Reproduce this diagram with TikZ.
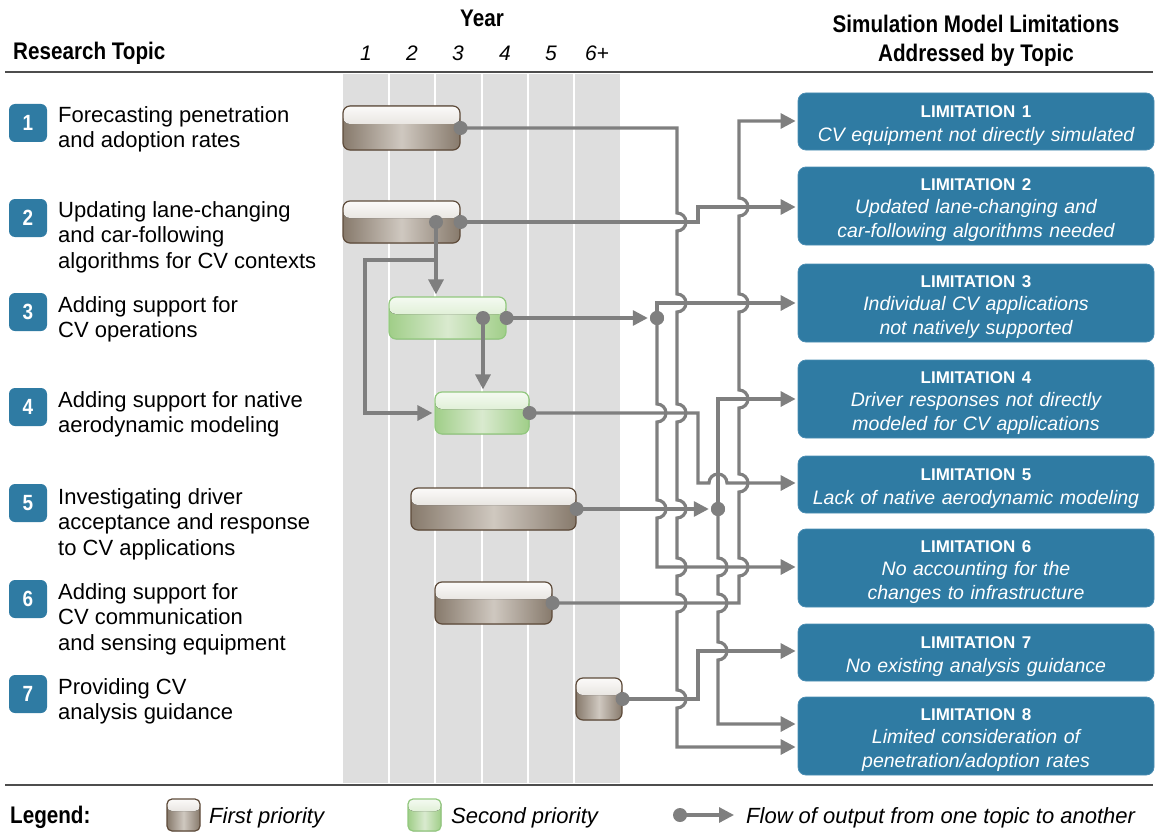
\documentclass[tikz,border=0pt]{standalone}
\usepackage{fontspec}
\setmainfont{Liberation Sans}
\newfontfamily\condfont[FakeStretch=0.86]{Liberation Sans}
\usetikzlibrary{arrows.meta,calc}
\definecolor{conncol}{HTML}{7F7F7F}
\definecolor{blueb}{HTML}{2F7BA3}
\definecolor{bluee}{HTML}{4A8DB3}
\definecolor{graycol}{HTML}{DEDEDE}
\definecolor{rulecol}{HTML}{4D4D4D}
\definecolor{brD}{HTML}{877A6C}
\definecolor{brL}{HTML}{CFC8C0}
\definecolor{brT}{HTML}{FBFAF9}
\definecolor{brT2}{HTML}{E9E6E2}
\definecolor{brE}{HTML}{5E4B3A}
\definecolor{grD}{HTML}{A0CE88}
\definecolor{grL}{HTML}{D9EACF}
\definecolor{grT}{HTML}{F4FAF1}
\definecolor{grT2}{HTML}{E1F0D8}
\definecolor{grE}{HTML}{92C87E}
\tikzset{
  hdr/.style={font=\condfont\bfseries\fontsize{24}{29}\selectfont, inner sep=0pt},
  yearlbl/.style={font=\itshape\fontsize{21}{21}\selectfont, inner sep=0pt},
  conn/.style={draw=conncol, line width=3.2pt},
  arr/.style={conn, -{Triangle[length=15pt,width=15pt]}, shorten >=2pt},
  jdot/.style={circle, fill=conncol, inner sep=0pt, minimum size=14pt},
  numbox/.style={fill=blueb, rounded corners=6pt, minimum width=38pt, minimum height=38pt, inner sep=0pt, text=white, font=\condfont\bfseries\fontsize{22}{22}\selectfont},
  topic/.style={anchor=north west, inner sep=0pt, align=left, font=\fontsize{22}{25.5}\selectfont},
  limbox/.style={fill=blueb, draw=bluee, line width=0.8pt, rounded corners=8pt, minimum width=356pt, inner sep=0pt},
  limtwo/.style={limbox, minimum height=57pt},
  limthree/.style={limbox, minimum height=78pt},
  limtext/.style={text width=345pt, align=center, text=white, inner sep=0pt, font=\itshape\fontsize{19.5}{23.5}\selectfont},
  barbase/.style={rounded corners=7pt, inner sep=0pt, line width=1.2pt},
  firstbar/.style={barbase, draw=brE, path picture={
     \fill[left color=brD, right color=brD, middle color=brL] (path picture bounding box.south west) rectangle (path picture bounding box.north east);
     \fill[top color=brT, bottom color=brT2] (path picture bounding box.north west) rectangle ([yshift=4pt]path picture bounding box.east);}},
  secondbar/.style={barbase, draw=grE, path picture={
     \fill[left color=grD, right color=grD, middle color=grL] (path picture bounding box.south west) rectangle (path picture bounding box.north east);
     \fill[top color=grT, bottom color=grT2] (path picture bounding box.north west) rectangle ([yshift=4pt]path picture bounding box.east);}},
  legtext/.style={anchor=west, inner sep=0pt, font=\itshape\fontsize{22}{22}\selectfont},
}
\newcommand{\limhd}[1]{{\bfseries\upshape\fontsize{17}{23.5}\selectfont #1}}
\begin{document}
\begin{tikzpicture}[x=1pt,y=-1pt]
\useasboundingbox (0,0) rectangle (1156,832);
% year columns
\fill[graycol] (343,74) rectangle (620,783);
\foreach \cx in {389,435,482,528,574} \draw[white, line width=2.5pt] (\cx,74) -- (\cx,783);
% rules
\draw[rulecol, line width=2pt] (5,72) -- (1153,72);
\draw[rulecol, line width=2pt] (5,785) -- (1153,785);
% headers
\node[hdr, anchor=west] (hRT) at (13,53) {Research Topic};
\node[hdr] (hY) at (482,18) {Year};
\node[hdr, align=center] (hS) at (976,41) {Simulation Model Limitations\\Addressed by Topic};
\node[yearlbl] (y1) at (366,53) {1};
\node[yearlbl] (y2) at (412,53) {2};
\node[yearlbl] (y3) at (458,53) {3};
\node[yearlbl] (y4) at (505,53) {4};
\node[yearlbl] (y5) at (551,53) {5};
\node[yearlbl] (y6) at (597,53) {6+};
% topic numbers and texts
\node[numbox] (n1) at (28,123) {1};
\node[numbox] (n2) at (28,218) {2};
\node[numbox] (n3) at (28,312) {3};
\node[numbox] (n4) at (28,407) {4};
\node[numbox] (n5) at (28,503) {5};
\node[numbox] (n6) at (28,599) {6};
\node[numbox] (n7) at (28,694) {7};
\node[topic] (t1) at (58,106) {Forecasting penetration\\and adoption rates};
\node[topic] (t2) at (58,201) {Updating lane-changing\\and car-following\\algorithms for CV contexts};
\node[topic] (t3) at (58,296) {Adding support for\\CV operations};
\node[topic] (t4) at (58,391) {Adding support for native\\aerodynamic modeling};
\node[topic] (t5) at (58,488) {Investigating driver\\acceptance and response\\to CV applications};
\node[topic] (t6) at (58,583) {Adding support for\\CV communication\\and sensing equipment};
\node[topic] (t7) at (58,678) {Providing CV\\analysis guidance};
% bars
\node[firstbar, minimum width=117pt, minimum height=44pt] (b1) at (401.5,128) {};
\node[firstbar, minimum width=117pt, minimum height=42pt] (b2) at (401.5,222) {};
\node[secondbar, minimum width=117pt, minimum height=42pt] (b3) at (447.5,318) {};
\node[secondbar, minimum width=94pt, minimum height=42pt] (b4) at (482,413) {};
\node[firstbar, minimum width=165pt, minimum height=42pt] (b5) at (493.5,509) {};
\node[firstbar, minimum width=117pt, minimum height=42pt] (b6) at (493.5,603) {};
\node[firstbar, minimum width=46pt, minimum height=42pt] (b7) at (599,699) {};
% limitation boxes
\node[limtwo] (L1) at (976,121.5) {};
\node[limthree] (L2) at (976,206) {};
\node[limthree] (L3) at (976,303) {};
\node[limthree] (L4) at (976,399) {};
\node[limtwo] (L5) at (976,484.5) {};
\node[limthree] (L6) at (976,568) {};
\node[limtwo] (L7) at (976,652.5) {};
\node[limthree] (L8) at (976,736) {};
\node[limtext] (L1t) at ([yshift=-4pt]L1.center) {\limhd{LIMITATION 1}\\CV equipment not directly simulated};
\node[limtext] (L2t) at ([yshift=-4pt]L2.center) {\limhd{LIMITATION 2}\\Updated lane-changing and\\car-following algorithms needed};
\node[limtext] (L3t) at ([yshift=-4pt]L3.center) {\limhd{LIMITATION 3}\\Individual CV applications\\not natively supported};
\node[limtext] (L4t) at ([yshift=-4pt]L4.center) {\limhd{LIMITATION 4}\\Driver responses not directly\\modeled for CV applications};
\node[limtext] (L5t) at ([yshift=-4pt]L5.center) {\limhd{LIMITATION 5}\\Lack of native aerodynamic modeling};
\node[limtext] (L6t) at ([yshift=-4pt]L6.center) {\limhd{LIMITATION 6}\\No accounting for the\\changes to infrastructure};
\node[limtext] (L7t) at ([yshift=-4pt]L7.center) {\limhd{LIMITATION 7}\\No existing analysis guidance};
\node[limtext] (L8t) at ([yshift=-4pt]L8.center) {\limhd{LIMITATION 8}\\Limited consideration of\\penetration/adoption rates};
% junction / output dots
\coordinate (d2) at (436,222);
\coordinate (d3) at (483,318);
\node[jdot] (j3) at (657,318) {};
\node[jdot] (j5) at (718,509) {};
% connectors
% topic 1 -> L8 (vertical at 677)
\draw[arr] (b1.east) -- (677,128) -- (677,213) arc[start angle=-90,end angle=90,radius=9]
  -- (677,294) arc[start angle=-90,end angle=90,radius=9]
  -- (677,404) arc[start angle=-90,end angle=90,radius=9]
  -- (677,500) arc[start angle=-90,end angle=90,radius=9]
  -- (677,558) arc[start angle=-90,end angle=90,radius=9]
  -- (677,594) arc[start angle=-90,end angle=90,radius=9]
  -- (677,690) arc[start angle=-90,end angle=90,radius=9]
  -- (677,747) -- (L8.west |- 0,747);
% topic 2 -> L2
\draw[arr] (b2.east) -- (698,222) -- (698,207) -- (L2.west |- 0,207);
% topic 2 -> topic 3, topic 4
\draw[arr] (d2) -- (b3.north -| d2);
\draw[arr] (d2 |- 0,260) -- (365,260) -- (365,413) -- (b4.west);
% topic 3 -> junction -> L3, L6
\draw[arr] (b3.east) -- (j3.west);
\draw[arr] (j3.center) -- (657,303) -- (L3.west |- 0,303);
\draw[arr] (j3.center) -- (657,404) arc[start angle=-90,end angle=90,radius=9]
  -- (657,500) arc[start angle=-90,end angle=90,radius=9]
  -- (657,567) -- (L6.west |- 0,567);
% topic 3 -> topic 4
\draw[arr] (d3) -- (b4.north -| d3);
% topic 4 -> L5
\draw[arr] (b4.east) -- (698,413) -- (698,483) -- (709,483) arc[start angle=180,end angle=360,radius=9] -- (L5.west |- 0,483);
% topic 5 -> junction -> L4, L8
\draw[arr] (b5.east) -- (j5.west);
\draw[arr] (j5.center) -- (718,399) -- (L4.west |- 0,399);
\draw[arr] (j5.center) -- (718,558) arc[start angle=-90,end angle=90,radius=9]
  -- (718,594) arc[start angle=-90,end angle=90,radius=9]
  -- (718,642) arc[start angle=-90,end angle=90,radius=9]
  -- (718,724) -- (L8.west |- 0,724);
% topic 6 -> L1 (vertical at 739)
\draw[arr] (b6.east) -- (739,603) -- (739,576) arc[start angle=90,end angle=-90,radius=9]
  -- (739,492) arc[start angle=90,end angle=-90,radius=9]
  -- (739,408) arc[start angle=90,end angle=-90,radius=9]
  -- (739,312) arc[start angle=90,end angle=-90,radius=9]
  -- (739,216) arc[start angle=90,end angle=-90,radius=9]
  -- (739,121) -- (L1.west |- 0,121);
% topic 7 -> L7
\draw[arr] (b7.east) -- (698,699) -- (698,651) -- (L7.west |- 0,651);
% dots drawn on top
\node[jdot] (j3b) at (j3) {};
\node[jdot] (j5b) at (j5) {};
\node[jdot] (o1) at (b1.east) {};
\node[jdot] (o2) at (b2.east) {};
\node[jdot] (o2b) at (d2) {};
\node[jdot] (o3) at (b3.east) {};
\node[jdot] (o3b) at (d3) {};
\node[jdot] (o4) at (b4.east) {};
\node[jdot] (o5) at (b5.east) {};
\node[jdot] (o6) at (b6.east) {};
\node[jdot] (o7) at (b7.east) {};
% legend
\node[hdr, anchor=west] (lg) at (10,817) {Legend:};
\node[firstbar, minimum width=33pt, minimum height=32pt, rounded corners=5pt] (lgb) at (183.5,815) {};
\node[legtext] (lgbt) at (209,818) {First priority};
\node[secondbar, minimum width=33pt, minimum height=32pt, rounded corners=5pt] (lgg) at (424.5,815) {};
\node[legtext] (lggt) at (451,818) {Second priority};
\node[jdot] (lgd) at (680,815) {};
\coordinate (lga) at (736,815);
\draw[arr] (lgd.center) -- (lga);
\node[legtext] (lgft) at (746,818) {Flow of output from one topic to another};
\end{tikzpicture}
\end{document}
